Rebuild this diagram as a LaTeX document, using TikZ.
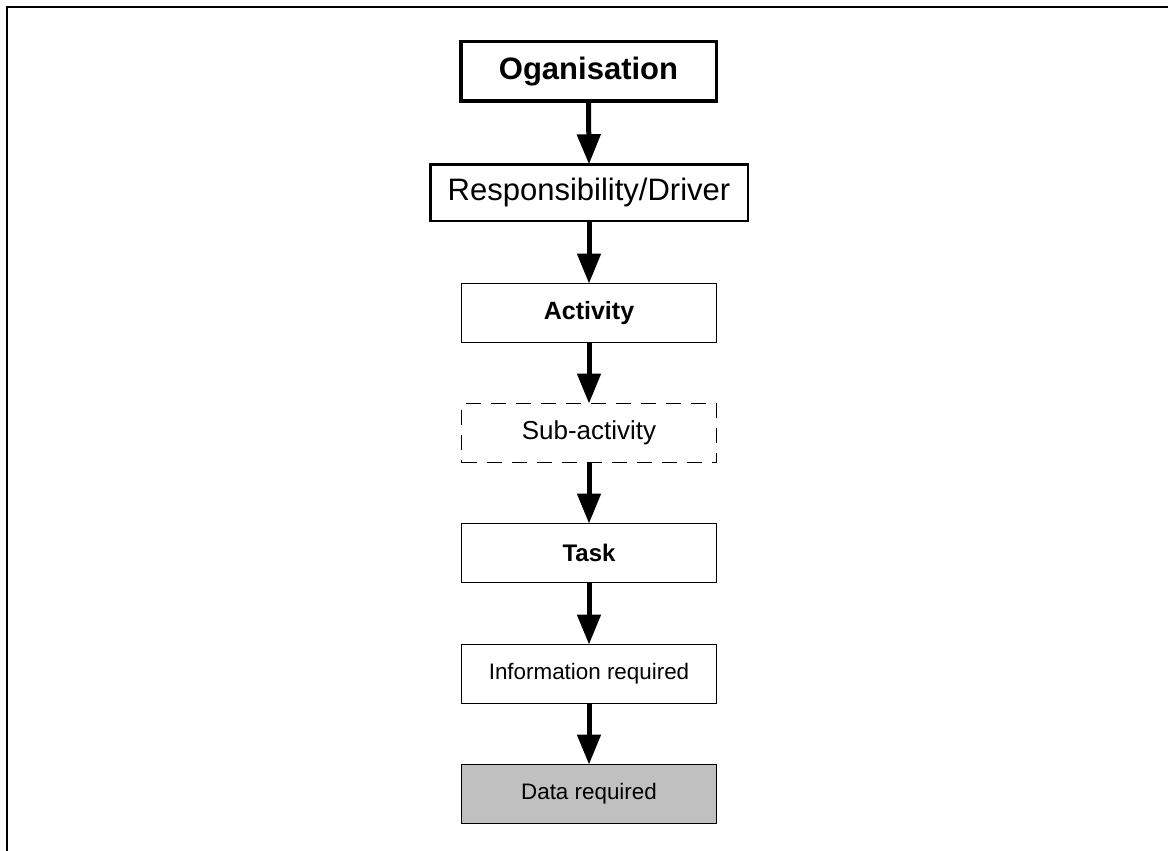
\documentclass[tikz,border=0pt]{standalone}
\usepackage{fontspec}
\setmainfont{Liberation Sans}
\usetikzlibrary{arrows.meta}
\definecolor{datagray}{RGB}{192,192,192}
\tikzset{
  box/.style={draw, rectangle, inner sep=0pt, outer sep=0pt,
    minimum width=255pt, minimum height=59pt, line width=1pt, align=center},
  flow/.style={line width=5pt, -{Triangle[width=23pt,length=30pt]}},
  frame/.style={line width=1.7pt}
}
\begin{document}
\begin{tikzpicture}[x=1pt,y=-1pt]
\useasboundingbox (0,0) rectangle (1168,851);
% open frame: top edge and left edge
\coordinate (fl) at (6.8,851);
\coordinate (fc) at (6.8,6.8);
\coordinate (fr) at (1168,6.8);
\draw[frame] (fl) -- (fc) -- (fr);

% hierarchy of boxes
\node[box, line width=3.5pt, minimum width=255.5pt, minimum height=59.5pt,
  font=\fontsize{31}{36}\selectfont\bfseries] (org) at (588.5,71.5) {Oganisation};
\node[box, line width=2.5pt, minimum width=317.5pt, minimum height=56.5pt,
  font=\fontsize{31}{36}\selectfont] (resp) at (589,192.5) {Responsibility/Driver};
\node[box, line width=1.3pt, font=\fontsize{25}{30}\selectfont\bfseries] (act) at (589,313) {Activity};
\node[box, line width=1.3pt, dash pattern=on 15pt off 10pt,
  font=\fontsize{26}{30}\selectfont] (sub) at (589,433) {Sub-activity};
\node[box, font=\fontsize{24}{28}\selectfont\bfseries] (task) at (589,553) {Task};
\node[box, font=\fontsize{22.4}{26}\selectfont] (info) at (589,674) {Information required};
\node[box, fill=datagray, font=\fontsize{22.4}{26}\selectfont] (data) at (589,794) {Data required};

% connectors
\draw[flow] (org.south) -- (resp.north);
\draw[flow] (resp.south) -- (act.north);
\draw[flow] (act.south) -- (sub.north);
\draw[flow] (sub.south) -- (task.north);
\draw[flow] (task.south) -- (info.north);
\draw[flow] (info.south) -- (data.north);
\end{tikzpicture}
\end{document}
